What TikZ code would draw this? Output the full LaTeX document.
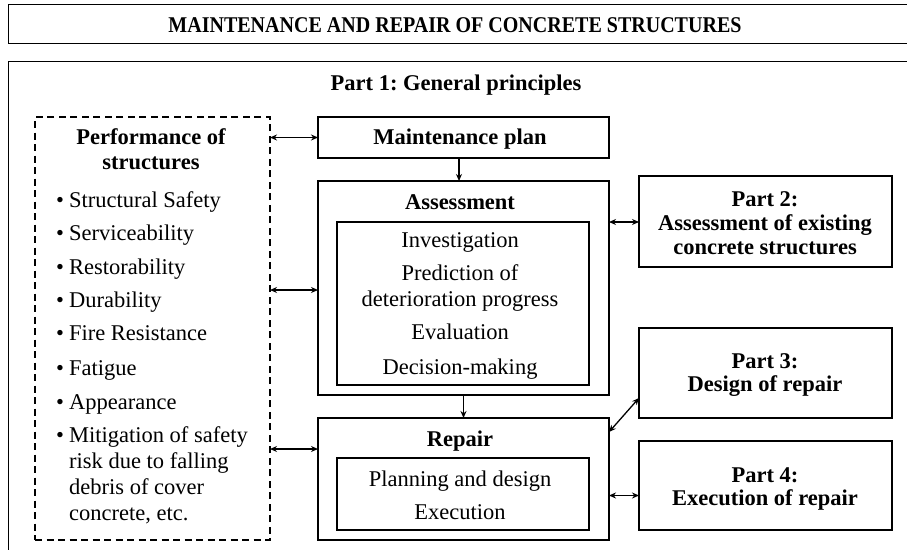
\documentclass[tikz,border=0pt]{standalone}
\usepackage{fontspec}
\usepackage{graphicx}
\setmainfont{Liberation Serif}
\usetikzlibrary{arrows.meta,calc}
\frenchspacing
\begin{document}
\begin{tikzpicture}[x=1pt,y=-1pt,
  box/.style={draw, line width=1.8pt, inner sep=0pt, outer sep=0pt},
  dbox/.style={draw, line width=1.8pt, dash pattern=on 7pt off 4.5pt, inner sep=0pt, outer sep=0pt},
  txt/.style={inner sep=0pt, font=\frenchspacing\fontsize{22.5}{25}\selectfont, text height=20pt, text depth=5pt},
  btxt/.style={inner sep=0pt, font=\frenchspacing\fontsize{22.5}{25}\selectfont\bfseries, text height=20pt, text depth=5pt},
  con/.style={line width=1.3pt},
  dbl/.style={con, {Stealth[length=7pt,width=6pt]}-{Stealth[length=7pt,width=6pt]}},
  sgl/.style={con, -{Stealth[length=7pt,width=6pt]}}
]
\useasboundingbox (0,0) rectangle (907,549);
\clip (0,0) rectangle (907,549);
\fill[white] (0,0) rectangle (907,549);

% outer frames
\node[box, minimum width=1000pt, minimum height=39pt, anchor=north west] (titlebox) at (8.5,4.5) {};
\node[box, minimum width=1000pt, minimum height=540pt, anchor=north west] (frame) at (8.5,61.5) {};
\node[btxt] (title) at (455,25) {\scalebox{0.89}[1]{MAINTENANCE AND REPAIR OF CONCRETE STRUCTURES}};
\node[btxt] (part1) at (456,83) {Part 1: General principles};

% performance box
\node[dbox, minimum width=235pt, minimum height=423pt] (perf) at (152.5,328.5) {};
\node[btxt] (perfA) at (151,137) {Performance of};
\node[btxt] (perfB) at (151,162) {structures};
\foreach \yy/\tt [count=\i] in {200/Structural Safety,233/Serviceability,267/Restorability,300/Durability,333/Fire Resistance,368/Fatigue,402/Appearance,435/Mitigation of safety}{
  \node[txt, anchor=west] (it\i) at (56,\yy) {•\hspace{5pt}\tt};
}
\node[txt, anchor=west] (itc1) at (69,461) {risk due to falling};
\node[txt, anchor=west] (itc2) at (69,487) {debris of cover};
\node[txt, anchor=west] (itc3) at (69,513) {concrete, etc.};

% central column
\node[box, minimum width=291pt, minimum height=41pt] (mp) at (463.5,137.5) {};
\node[btxt] (mpT) at (460,137) {Maintenance plan};

\node[box, minimum width=291pt, minimum height=214pt] (as) at (463.5,288) {};
\node[btxt] (asT) at (460,202) {Assessment};
\node[box, minimum width=252pt, minimum height=163pt] (asi) at (463,303.5) {};
\node[txt] (as1) at (460,240) {Investigation};
\node[txt] (as2) at (460,273) {Prediction of};
\node[txt] (as3) at (460,299) {deterioration progress};
\node[txt] (as4) at (460,332) {Evaluation};
\node[txt] (as5) at (460,367) {Decision-making};

\node[box, minimum width=291pt, minimum height=122pt] (rp) at (463.5,479) {};
\node[btxt] (rpT) at (460,439) {Repair};
\node[box, minimum width=252pt, minimum height=72pt] (rpi) at (463,494) {};
\node[txt] (rp1) at (460,479) {Planning and design};
\node[txt] (rp2) at (460,512) {Execution};

% right column
\node[box, minimum width=253pt, minimum height=91pt] (p2) at (765.5,221.5) {};
\node[btxt] (p2a) at (765,199) {Part 2:};
\node[btxt] (p2b) at (765,223) {Assessment of existing};
\node[btxt] (p2c) at (765,247) {concrete structures};

\node[box, minimum width=253pt, minimum height=90pt] (p3) at (765.5,373) {};
\node[btxt] (p3a) at (765,361) {Part 3:};
\node[btxt] (p3b) at (765,384) {Design of repair};

\node[box, minimum width=253pt, minimum height=89pt] (p4) at (765.5,485.5) {};
\node[btxt] (p4a) at (765,475) {Part 4:};
\node[btxt] (p4b) at (765,498) {Execution of repair};

% connectors
\draw[dbl] (perf.east |- mp.west) -- (mp.west);
\coordinate (asL) at ([yshift=-2pt]as.west);
\draw[dbl] (perf.east |- asL) -- (asL);
\coordinate (rpL) at ([yshift=30pt]rp.west);
\draw[dbl] (perf.east |- rpL) -- (rpL);

\coordinate (mpS) at ([xshift=-4.5pt]mp.south);
\draw[sgl] (mpS) -- (mpS |- as.north);
\draw[sgl] (as.south) -- (rp.north);

\coordinate (p2L) at ([yshift=-0.5pt]p2.west);
\draw[dbl] (as.east |- p2L) -- (p2L);
\coordinate (rpR3) at ([yshift=47pt]rp.east);
\coordinate (p3L) at ([yshift=-25pt]p3.west);
\draw[dbl] (rpR3) -- (p3L);
\coordinate (p4L) at ([yshift=-10pt]p4.west);
\draw[dbl] (rp.east |- p4L) -- (p4L);
\end{tikzpicture}
\end{document}
